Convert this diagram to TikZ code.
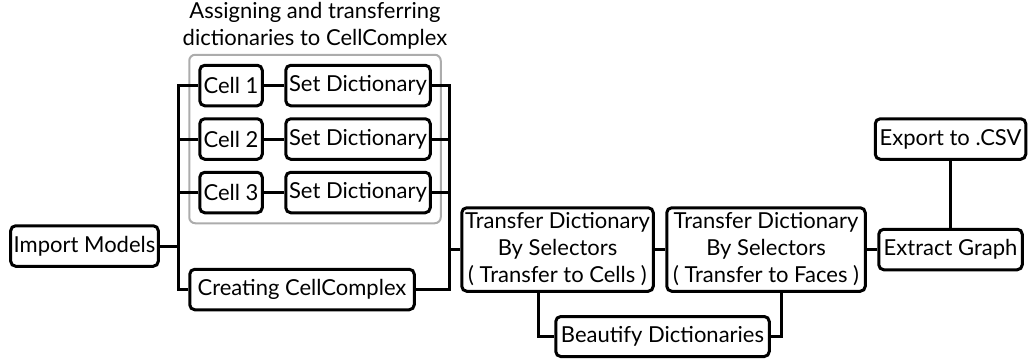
\documentclass[tikz,border=0pt]{standalone}
\usepackage{fontspec}
\setmainfont{Lato}
\usetikzlibrary{positioning, fit, calc, backgrounds}

\begin{document}
\begin{tikzpicture}[
  x=0.5pt, y=-0.5pt,
  font=\fontsize{11}{13.5}\selectfont,
  box/.style={
    draw, line width=1.5pt, rounded corners=2.5pt, align=center,
    inner sep=1.5pt, minimum height=20.25pt
  },
  groupbg/.style={
    draw=gray!65, line width=1pt, rounded corners=3pt, inner sep=4.5pt
  },
  link/.style={line width=1.5pt}
]
\useasboundingbox (0,0) rectangle (1036,359);

% left part
\node[box, minimum width=73.5pt] (import) at (84.5,246) {Import Models};

\node[box, minimum width=31.25pt] (cell1) at (231,85.5) {Cell 1};
\node[box, minimum width=31.25pt] (cell2) at (231,139) {Cell 2};
\node[box, minimum width=31.25pt] (cell3) at (231,192.5) {Cell 3};

\node[box, minimum width=72.25pt] (setdict1) at (358,85.5) {Set Dictionary};
\node[box, minimum width=72.25pt] (setdict2) at (358,139) {Set Dictionary};
\node[box, minimum width=72.25pt] (setdict3) at (358,192.5) {Set Dictionary};

\node[box, minimum width=112.25pt] (complex) at (302,289.5) {Creating CellComplex};

% right part
\node[box, minimum width=95.75pt, minimum height=41.75pt] (transcells) at (557.5,249.5) {%
  Transfer Dictionary\\
  By Selectors\\
  ( Transfer to Cells )
};
\node[box, minimum width=99.25pt, minimum height=41.75pt] (transfaces) at (766,249.5) {%
  Transfer Dictionary\\
  By Selectors\\
  ( Transfer to Faces )
};
\node[box, minimum width=106.75pt, minimum height=20pt] (beautify) at (662.5,336.5) {Beautify Dictionaries};
\node[box, minimum width=71.75pt] (graph) at (950.5,249.5) {Extract Graph};
\node[box, minimum width=75.25pt] (export) at (950.5,139) {Export to .CSV};

% trunks
\coordinate (ltrunk) at (178,0);
\coordinate (rtrunk) at (449,0);

\draw[link] (cell1.west) -- (cell1.west -| ltrunk) |- (complex.west);
\draw[link] (cell2.west) -- (cell2.west -| ltrunk);
\draw[link] (cell3.west) -- (cell3.west -| ltrunk);
\draw[link] (import.east) -- (import.east -| ltrunk);

\foreach \i in {1,2,3} {
  \draw[link] (cell\i) -- (setdict\i);
}

\draw[link] (setdict1.east) -- (setdict1.east -| rtrunk) |- (complex.east);
\draw[link] (setdict2.east) -- (setdict2.east -| rtrunk);
\draw[link] (setdict3.east) -- (setdict3.east -| rtrunk);
\draw[link] (transcells.west) -- (transcells.west -| rtrunk);

\draw[link] (transcells) -- (transfaces);
\draw[link] (transfaces) -- (graph);
\draw[link] (graph) -- (export);
\draw[link] ([xshift=-9.75pt]transcells.south) |- (beautify.west);
\draw[link] ([xshift=7.5pt]transfaces.south) |- (beautify.east);

\begin{scope}[on background layer]
\node[groupbg, fit=(cell1)(setdict1)(cell3)(setdict3)] (group) {};
\end{scope}
\node[align=center, anchor=south, inner sep=2pt] at (group.north) {%
  Assigning and transferring\\
  dictionaries to CellComplex
};

\end{tikzpicture}
\end{document}
